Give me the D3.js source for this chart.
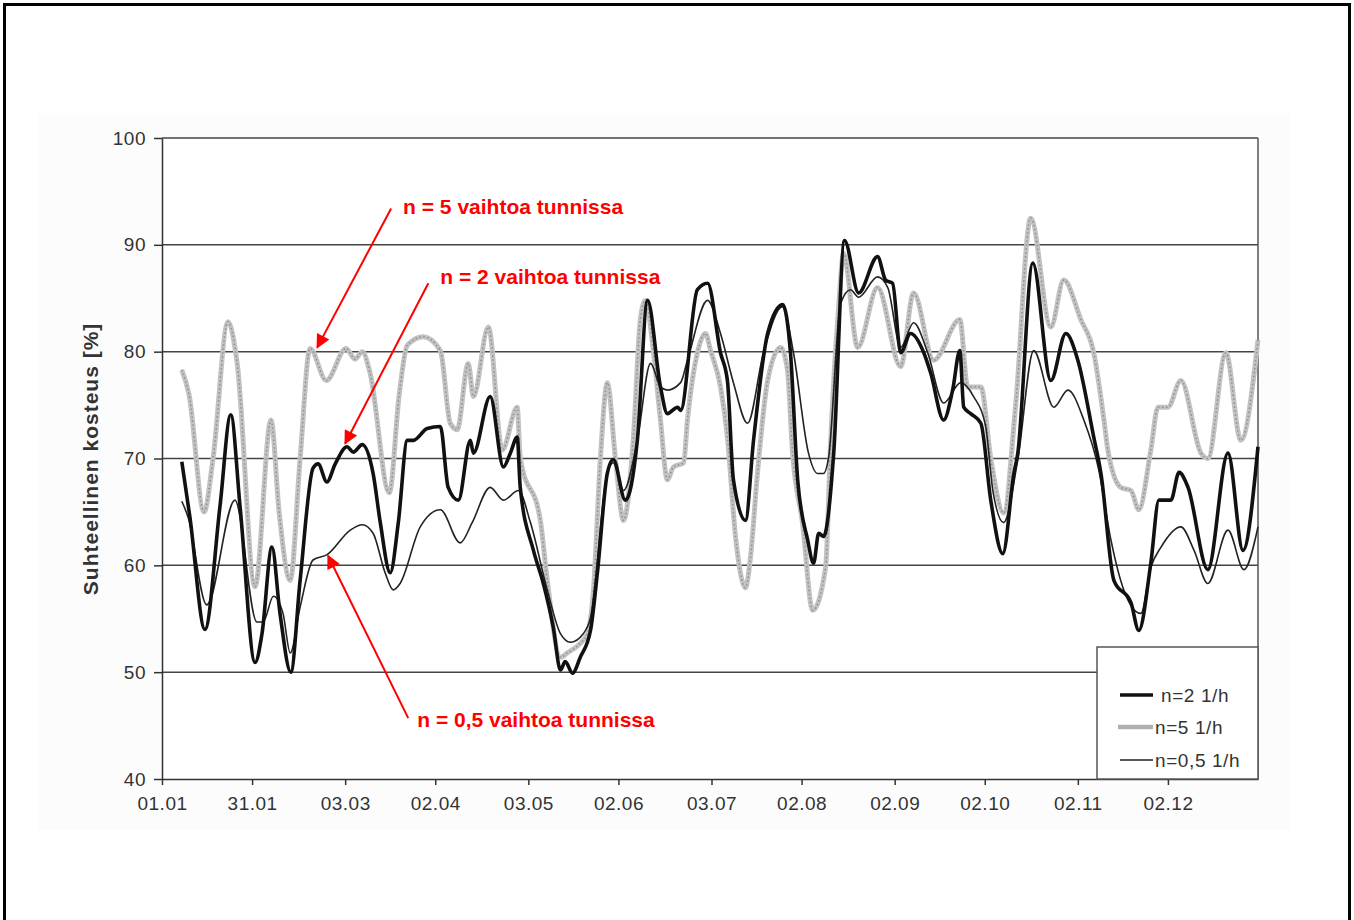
<!DOCTYPE html>
<html>
<head>
<meta charset="utf-8">
<script src="https://cdn.jsdelivr.net/npm/d3@7"></script>
<style>
  body { margin: 0; background: #fff; }
  svg { display: block; }
  text { font-family: "Liberation Sans", Arial, Helvetica, sans-serif; }
</style>
</head>
<body>
<svg width="1354" height="920"></svg>
<script>
// tick positions (day of year) and labels
const tickDays = [0, 30, 61, 91, 122, 152, 183, 213, 244, 274, 305, 335];
const tickLabels = ["01.01", "31.01", "03.03", "02.04", "03.05", "02.06", "03.07", "02.08", "02.09", "02.10", "02.11", "02.12"];
const yTicks = [40, 50, 60, 70, 80, 90, 100];

// relative humidity, [day, %]
const n5 = [[6.6,78.3],[9,76],[14,65],[17,70],[22,82.8],[25,79],[31,58],[36.3,73.6],[39,65],[42.7,58.6],[46,70],[49.3,80.3],[54.7,77.3],[61.3,80.3],[64.3,79.3],[66.7,80],[69.3,78],[75.7,66.8],[79,76],[81.7,80.6],[87,81.4],[92.7,80.1],[96,73.3],[98.3,72.7],[102,78.9],[103.7,75.8],[108.7,82.3],[113.3,70.8],[118.3,74.8],[119.3,70.1],[126,64.2],[128.3,58.6],[132.7,51.4],[135,51.8],[139.3,52.7],[141.7,53.6],[143.7,57.7],[146,70],[148.3,77.1],[151,70],[153.7,64.2],[157,72],[159.3,83],[161,84.8],[163.7,79.9],[166,73.6],[168.3,68],[170.3,69.2],[173.7,69.6],[175,73.6],[178.3,79.9],[181,81.7],[182.7,80.1],[186,76.7],[188.3,72],[191,62.7],[194.3,57.9],[196,60.8],[198.3,68.6],[201.7,77.3],[206,80.4],[208.3,78.3],[210,70.5],[213.3,64],[216.7,55.8],[221,59.8],[222.7,71.7],[225.3,84],[227,89.2],[231.7,80.4],[238.3,86],[246,78.6],[250.3,85.5],[257,79.2],[265.7,83],[268.3,76.7],[272.7,76.7],[276,70],[280.3,64.9],[284.3,75],[289.3,92.5],[296,82.3],[300.3,86.7],[306,83],[310.3,79.9],[313.7,73.6],[315,70.8],[319.3,67.3],[322.7,67],[325.3,65.2],[329.3,70.8],[331.7,74.8],[335,74.8],[339.3,77.3],[346,70.5],[348.3,70],[354.3,79.9],[359.3,71.7],[365,81.1]];

const n2 = [[6.6,69.7],[9.3,64.5],[14.3,54],[19.3,65.5],[22.9,74.1],[26,65.5],[31,50.9],[33.3,53.6],[36.6,61.7],[39.3,55.5],[42.9,50],[46,58.6],[50.3,69.1],[52,69.5],[54.9,67.8],[57.7,69.5],[61.6,71.1],[63.7,70.6],[66.7,71.3],[70.3,68.6],[72.7,64],[76,59.3],[78.7,64],[81.7,71.7],[83.7,71.7],[88.3,72.8],[92.7,73],[95.3,67.3],[98.7,66.1],[102.7,71.7],[103.7,70.5],[109.3,75.8],[113.7,69.2],[116,70.5],[118.3,72],[119.3,67.3],[123.7,61.4],[127,58.3],[130.3,54.2],[132.7,50.2],[134.3,51],[136.7,49.9],[139.3,51.4],[142.7,53.9],[145,59.3],[148.3,68.6],[150.3,69.9],[154.3,66.1],[158.3,71.7],[161.7,84.8],[166,76.7],[168.3,74.2],[171.7,74.8],[172.7,74.5],[178.3,85.8],[181.7,86.4],[186,79.9],[188.3,77.3],[190.3,68],[194.3,64.2],[197,71.7],[201.7,81.7],[206.7,84.4],[209.3,79.9],[211.7,68],[215,62.4],[217,60.2],[218.7,63],[220.3,62.7],[223.7,70.5],[227.3,90.4],[232,85.5],[238.3,88.9],[241,86.7],[243.3,86.4],[246,79.9],[249.3,81.7],[253.7,79.9],[256,78],[260.3,73.6],[263.3,76.4],[265.7,80.1],[267,74.8],[269.3,74.2],[272.7,73.3],[276,66.1],[280,61.1],[283.7,68.6],[285,70.5],[290,88.3],[296,77.3],[301,81.7],[305,79.2],[310.3,72],[312.7,68.6],[317,58.6],[322.7,56.5],[325.3,53.9],[329.3,60.2],[332,66.1],[336,66.1],[338.7,68.7],[341.7,67.3],[348.3,59.6],[355,70.5],[360,61.4],[365,71.1]];

const n05 = [[6.6,66],[8.7,64.5],[14.9,56.3],[24.3,66.1],[31.6,54.7],[33.7,54.7],[37.1,57.1],[40.3,55.5],[42.7,51.8],[46,56.1],[50.3,60.5],[55,61],[62.7,63.3],[66.7,63.8],[70.3,63],[74.3,59.3],[77,57.7],[79.3,58.3],[86,63.6],[92.7,65.2],[99.3,62.1],[103.3,64],[109.3,67.3],[113.7,66.1],[118.7,67],[122.7,64],[128.3,57.7],[132.7,53.6],[136,52.8],[140.3,53.6],[142.7,55.1],[148.3,68.6],[150.3,69.6],[153.7,67],[158.3,71.7],[162.7,78.9],[166,76.7],[168.3,76.4],[172.7,77.1],[175,79.2],[181.7,84.8],[186,81.7],[190.3,77.1],[195,73.3],[200.3,79.9],[206.7,84.2],[210.3,79.9],[215.3,70.5],[218.3,68.6],[220.3,68.6],[222,70.1],[226,84.5],[229.3,85.8],[232,85.1],[238.3,87],[241.7,86],[246,80.4],[250.3,82.7],[255,79.9],[260.3,75.2],[266,77.1],[270.3,75.8],[274.3,73],[276.7,67],[280.3,64],[285,69.9],[290.3,80.1],[297,74.8],[301.7,76.4],[307,73.6],[312,68.9],[316,62.4],[320.3,57.7],[326,55.5],[329.3,59.8],[332.7,61.7],[339.3,63.6],[343.7,61.4],[348.3,58.3],[355,63.3],[360.3,59.6],[365,63.6]];

const svg = d3.select("svg");

// page frame and the scanned chart area
svg.append("rect").attr("x", 4.5).attr("y", 4.5).attr("width", 1345).attr("height", 920)
    .attr("fill", "none").attr("stroke", "#000").attr("stroke-width", 3);
svg.append("rect").attr("x", 38).attr("y", 115).attr("width", 1252).attr("height", 715)
    .attr("fill", "#fcfcfc");

const x = d3.scaleLinear().domain([0, 365]).range([162, 1258]);
const y = d3.scaleLinear().domain([40, 100]).range([779, 138]);

svg.append("rect").attr("x", x(0)).attr("y", y(100)).attr("width", x(365) - x(0)).attr("height", y(40) - y(100))
    .attr("fill", "#fff");

// grid lines
svg.append("g").selectAll("line").data(yTicks.slice(1)).join("line")
    .attr("x1", x(0)).attr("x2", x(365))
    .attr("y1", d => y(d)).attr("y2", d => y(d))
    .attr("stroke", "#444").attr("stroke-width", 1.5);
svg.append("line").attr("x1", x(365)).attr("x2", x(365)).attr("y1", y(100)).attr("y2", y(40))
    .attr("stroke", "#555").attr("stroke-width", 1.5);

// axes
const xAxis = svg.append("g")
    .attr("transform", `translate(0,${y(40)})`)
    .call(d3.axisBottom(x).tickValues(tickDays).tickFormat((d, i) => tickLabels[i]).tickSize(6).tickPadding(12).tickSizeOuter(0));
const yAxis = svg.append("g")
    .attr("transform", `translate(${x(0)},0)`)
    .call(d3.axisLeft(y).tickValues(yTicks).tickSize(8).tickPadding(8).tickSizeOuter(0));
[xAxis, yAxis].forEach(g => {
    g.select(".domain").attr("stroke", "#333").attr("stroke-width", 1.5);
    g.selectAll(".tick line").attr("stroke", "#333").attr("stroke-width", 1.5);
    g.selectAll(".tick text").attr("fill", "#333").style("font-size", "19px")
        .style("letter-spacing", "0.5px")
        .style("font-family", "'Liberation Sans', Arial, sans-serif");
});

svg.append("text")
    .attr("transform", `translate(98,${(y(70) + y(60)) / 2 - 53}) rotate(-90)`)
    .attr("text-anchor", "middle")
    .attr("fill", "#333").style("font-size", "21px").style("font-weight", "bold")
    .style("letter-spacing", "1px")
    .text("Suhteellinen kosteus [%]");

// series
const line = d3.line().x(d => x(d[0])).y(d => y(d[1])).curve(d3.curveMonotoneX);

svg.append("path").datum(n5).attr("d", line).attr("fill", "none")
    .attr("stroke", "#c2c2c2").attr("stroke-width", 5).attr("stroke-linejoin", "round");
svg.append("path").datum(n5).attr("d", line).attr("fill", "none")
    .attr("stroke", "#8f8f8f").attr("stroke-width", 1.5).attr("stroke-dasharray", "1.5,2.5");
svg.append("path").datum(n05).attr("d", line).attr("fill", "none")
    .attr("stroke", "#222").attr("stroke-width", 1.6).attr("stroke-linejoin", "round");
svg.append("path").datum(n2).attr("d", line).attr("fill", "none")
    .attr("stroke", "#111").attr("stroke-width", 3.6).attr("stroke-linejoin", "round");

// legend
const lg = svg.append("g");
lg.append("rect").attr("x", 1097).attr("y", 647).attr("width", x(365) - 1097).attr("height", y(40) - 647)
    .attr("fill", "#fff").attr("stroke", "#555").attr("stroke-width", 1.5);
const legendItems = [
    { label: "n=2 1/h", color: "#111", w: 3.6, x1: 1120, tx: 1161, yy: 695 },
    { label: "n=5 1/h", color: "#b0b0b0", w: 4.5, x1: 1118, tx: 1155, yy: 727 },
    { label: "n=0,5 1/h", color: "#222", w: 1.6, x1: 1120, tx: 1155, yy: 760 }
];
legendItems.forEach(it => {
    lg.append("line").attr("x1", it.x1).attr("x2", 1153).attr("y1", it.yy).attr("y2", it.yy)
        .attr("stroke", it.color).attr("stroke-width", it.w);
    lg.append("text").attr("x", it.tx).attr("y", it.yy).attr("dy", "0.35em")
        .attr("fill", "#333").style("font-size", "19px").style("letter-spacing", "0.6px").text(it.label);
});

// red annotations with arrows
svg.append("defs").append("marker")
    .attr("id", "arr").attr("viewBox", "0 0 10 10").attr("refX", 9).attr("refY", 5)
    .attr("markerWidth", 18).attr("markerHeight", 14).attr("markerUnits", "userSpaceOnUse")
    .attr("orient", "auto")
    .append("path").attr("d", "M0,0 L10,5 L0,10 z").attr("fill", "#ff0000");

const notes = [
    { text: "n = 5 vaihtoa tunnissa", tx: 80.3, ty: 93.6, from: [76.3, 93.4], to: [51.7, 80.4] },
    { text: "n = 2 vaihtoa tunnissa", tx: 92.7, ty: 87.0, from: [88.7, 86.4], to: [61.0, 71.4] },
    { text: "n = 0,5 vaihtoa tunnissa", tx: 85.0, ty: 45.6, from: [82.0, 45.7], to: [55.3, 60.9] }
];
notes.forEach(n => {
    svg.append("line")
        .attr("x1", x(n.from[0])).attr("y1", y(n.from[1]))
        .attr("x2", x(n.to[0])).attr("y2", y(n.to[1]))
        .attr("stroke", "#ff0000").attr("stroke-width", 2)
        .attr("marker-end", "url(#arr)");
    svg.append("text").attr("x", x(n.tx)).attr("y", y(n.ty)).attr("dy", "0.35em")
        .attr("fill", "#ff0000").style("font-size", "21px").style("font-weight", "bold")
        .text(n.text);
});
</script>
</body>
</html>
